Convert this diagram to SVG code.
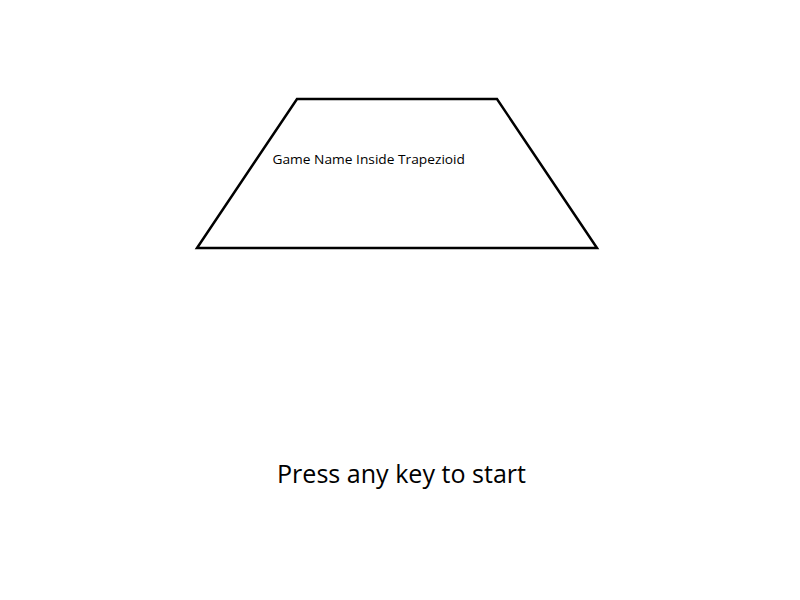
<svg xmlns="http://www.w3.org/2000/svg" width="800" height="600" viewBox="0 0 800 600">
<style>
.shape{fill:#ffffff;stroke:#000000;stroke-width:2.5;stroke-linejoin:miter}
.lbl{font-family:"Open Sans","Noto Sans","Liberation Sans",sans-serif;fill:#000000}
</style>
<rect width="800" height="600" fill="#ffffff"/>
<g id="title-trapezoid">
<polygon class="shape" points="297,99 497,99 597,248 197,248"/>
<text class="lbl" x="272.5" y="164" font-size="13.5" textLength="192.5" lengthAdjust="spacingAndGlyphs">Game Name Inside Trapezioid</text>
</g>
<g id="start-prompt">
<text class="lbl" x="277" y="483" font-size="25" textLength="249" lengthAdjust="spacingAndGlyphs">Press any key to start</text>
</g>
<g id="connectors"></g>
</svg>
